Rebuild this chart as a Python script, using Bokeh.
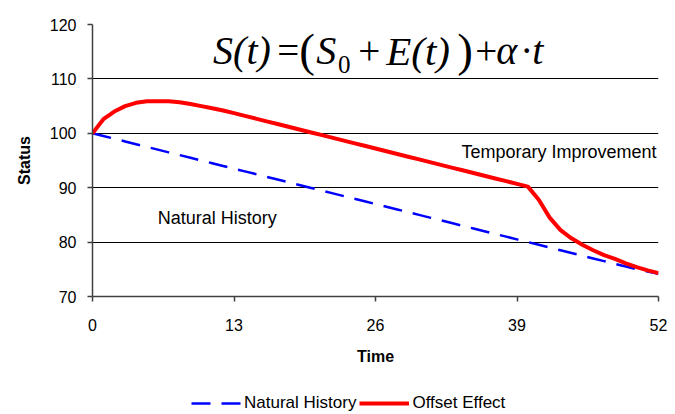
from bokeh.plotting import figure
from bokeh.layouts import column
from bokeh.models import Range1d, FixedTicker, Label, Legend, LegendItem
from bokeh.embed import file_html
from bokeh.resources import INLINE

# ---- data ----
weeks = list(range(53))
natural_history = [100.0, 99.5, 99.0, 98.5, 98.0, 97.5, 97.0, 96.5, 96.0, 95.5,
                   95.0, 94.5, 94.0, 93.5, 93.0, 92.5, 92.0, 91.5, 91.0, 90.5,
                   90.0, 89.5, 89.0, 88.5, 88.0, 87.5, 87.0, 86.5, 86.0, 85.5,
                   85.0, 84.5, 84.0, 83.5, 83.0, 82.5, 82.0, 81.5, 81.0, 80.5,
                   80.0, 79.5, 79.0, 78.5, 78.0, 77.5, 77.0, 76.5, 76.0, 75.5,
                   75.0, 74.6, 74.2]
offset_effect = [100.0, 102.6, 104.0, 105.0, 105.6, 105.9, 105.9, 105.9, 105.7, 105.4,
                 105.0, 104.6, 104.2, 103.7, 103.2, 102.7, 102.2, 101.7, 101.2, 100.7,
                 100.2, 99.7, 99.2, 98.7, 98.2, 97.7, 97.2, 96.7, 96.2, 95.7,
                 95.2, 94.7, 94.2, 93.7, 93.2, 92.7, 92.2, 91.7, 91.2, 90.7,
                 90.2, 87.8, 84.5, 82.2, 80.7, 79.5, 78.5, 77.6, 76.9, 76.1,
                 75.4, 74.8, 74.3]
x_ticks = [0, 13, 26, 39, 52]
y_ticks = [70, 80, 90, 100, 110, 120]
series_names = ["Natural History", "Offset Effect"]

SANS = "Liberation Sans"
SERIF = "Liberation Serif"
BLUE = "#0000ff"
RED = "#ff0000"
BLUE_DASH = "19 11"

p = figure(width=675, height=384, output_backend="svg", toolbar_location=None,
           x_range=Range1d(0, 52), y_range=Range1d(70, 120),
           min_border_left=92, min_border_right=17, min_border_top=24, min_border_bottom=88)
p.outline_line_color = None
p.background_fill_color = "white"

# axes
for ax in (p.xaxis[0], p.yaxis[0]):
    ax.axis_line_color = "#404040"
    ax.axis_line_width = 1.5
    ax.major_tick_line_color = "#404040"
    ax.major_tick_line_width = 1.5
    ax.major_tick_out = 5
    ax.major_tick_in = 0
    ax.minor_tick_line_color = None
    ax.major_label_text_font = SANS
    ax.major_label_text_font_size = "16px"
    ax.major_label_text_color = "black"
    ax.axis_label_text_font = SANS
    ax.axis_label_text_font_size = "16px"
    ax.axis_label_text_font_style = "bold"
    ax.axis_label_text_color = "black"

p.xaxis.ticker = FixedTicker(ticks=x_ticks)
p.yaxis.ticker = FixedTicker(ticks=y_ticks)
p.xaxis.axis_label = "Time"
p.yaxis.axis_label = "Status"
p.xaxis.major_label_standoff = 17
p.xaxis.axis_label_standoff = 14
p.yaxis.major_label_standoff = 11
p.yaxis.axis_label_standoff = 14

p.xgrid.grid_line_color = None
p.ygrid.grid_line_color = "black"
p.ygrid.grid_line_width = 1

# series
p.line(weeks, natural_history, line_color=BLUE, line_width=2.5, line_dash=BLUE_DASH)
p.line(weeks, offset_effect, line_color=RED, line_width=4)

# in-plot annotations
p.add_layout(Label(x=6.0, y=84.35, text="Natural History", text_font=SANS,
                   text_font_size="18px", text_baseline="middle", text_color="black"))
p.add_layout(Label(x=33.9, y=96.55, text="Temporary Improvement", text_font=SANS,
                   text_font_size="18px", text_baseline="middle", text_color="black"))

# formula S(t) = (S0 + E(t)) + alpha . t
mid_v = 115.15
par_v = 115.4
pieces = [
    (11.08, mid_v, "S(t)", "40px", "italic"),
    (16.97, mid_v, "=", "39px", "normal"),
    (18.99, par_v, "(", "47px", "normal"),
    (20.55, mid_v, "S", "40px", "italic"),
    (22.55, 112.6, "0", "25px", "normal"),
    (24.41, mid_v, "+", "39px", "normal"),
    (26.99, mid_v, "E(t)", "41px", "italic"),
    (33.52, par_v, ")", "47px", "normal"),
    (35.17, mid_v, "+", "39px", "normal"),
    (37.10, mid_v, "α", "40px", "italic"),
    (39.31, mid_v, "·", "39px", "normal"),
    (40.41, mid_v, "t", "40px", "italic"),
]
for x, y, t, size, style in pieces:
    p.add_layout(Label(x=x, y=y, text=t, text_font=SERIF, text_font_size=size,
                       text_font_style=style, text_baseline="middle", text_color="black"))

# legend strip below the chart (hidden copies of the series supply the key styles)
lg = figure(width=675, height=30, output_backend="svg", toolbar_location=None,
            x_axis_type=None, y_axis_type=None,
            x_range=Range1d(0, 52), y_range=Range1d(70, 120),
            min_border_left=0, min_border_right=0, min_border_top=0, min_border_bottom=0)
lg.outline_line_color = None
lg.xgrid.grid_line_color = None
lg.ygrid.grid_line_color = None
k_nat = lg.line(weeks, natural_history, line_color=BLUE, line_width=2.5,
                line_dash=BLUE_DASH, visible=False)
k_off = lg.line(weeks, offset_effect, line_color=RED, line_width=4, visible=False)
legend = Legend(items=[LegendItem(label=series_names[0], renderers=[k_nat]),
                       LegendItem(label=series_names[1], renderers=[k_off])],
                location=(99, 1), orientation="horizontal",
                glyph_width=50, glyph_height=20, label_height=20,
                label_standoff=3, spacing=3, padding=0, margin=0,
                label_text_font=SANS, label_text_font_size="17px",
                label_text_color="black",
                border_line_color=None, background_fill_alpha=0)
lg.add_layout(legend, "center")

open("out.html", "w").write(file_html(column(p, lg, spacing=0), INLINE))
